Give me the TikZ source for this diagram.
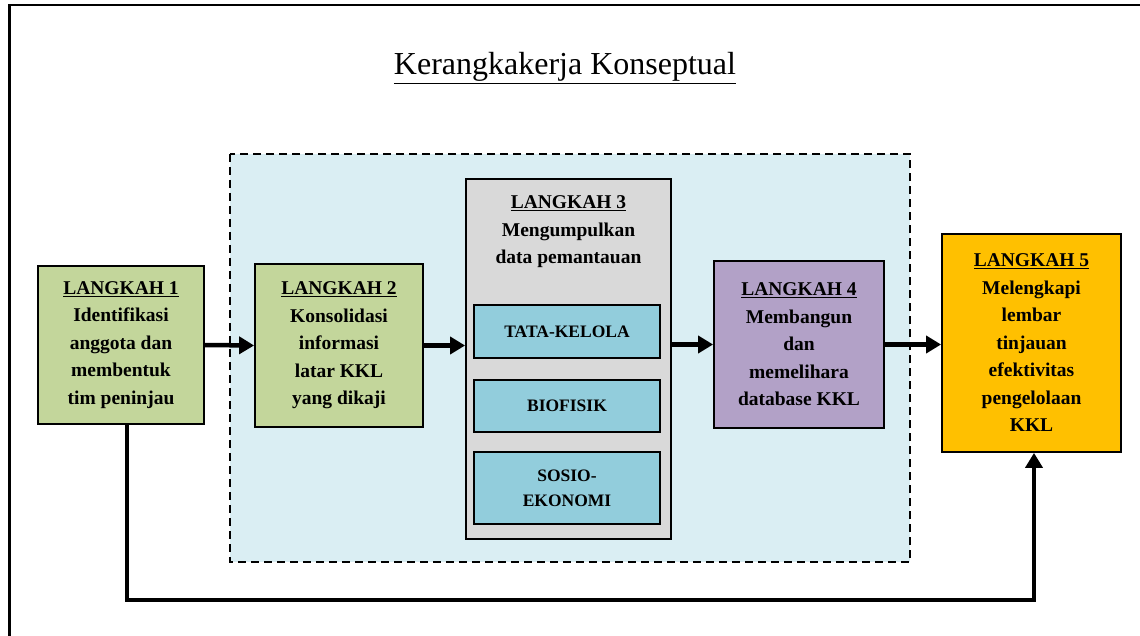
\documentclass[tikz,border=0pt]{standalone}
\usepackage{fontspec}
\setmainfont{Liberation Serif}
\usetikzlibrary{arrows.meta,calc}
\definecolor{cgreen}{HTML}{C3D69B}
\definecolor{cgray}{HTML}{D9D9D9}
\definecolor{csub}{HTML}{92CDDC}
\definecolor{clight}{HTML}{DAEEF3}
\definecolor{cpurple}{HTML}{B2A1C7}
\definecolor{corange}{HTML}{FFC000}
\tikzset{
  stepbox/.style={draw=black, line width=1.8pt, inner sep=0pt, align=center,
    font=\bfseries\fontsize{19.5}{27.5}\selectfont},
  subbox/.style={draw=black, line width=1.8pt, fill=csub, inner sep=0pt, align=center,
    minimum width=186pt, font=\bfseries\fontsize{17.5}{25}\selectfont},
  flow/.style={line width=4.5pt, -{Triangle[length=15pt,width=17pt]}},
}
\begin{document}
\begin{tikzpicture}[x=1pt,y=-1pt]
\useasboundingbox (0,0) rectangle (1140,636);
% outer frame
\draw[line width=2.5pt] (9.5,636) -- (9.5,5) -- (1140,5);
% title
\node[font=\fontsize{32}{38}\selectfont, anchor=base] (title) at (565,75) {\underline{Kerangkakerja Konseptual}};
% dashed region
\draw[dashed, dash pattern=on 8pt off 5pt, line width=2.5pt, fill=clight] (230,154) rectangle (910,562);
% boxes
\node[stepbox, fill=cgreen, minimum width=166pt, minimum height=158pt] (b1) at (121,345)
  {\underline{LANGKAH 1}\\Identifikasi\\anggota dan\\membentuk\\tim peninjau};
\node[stepbox, fill=cgreen, minimum width=168pt, minimum height=163pt] (b2) at (339,345.5)
  {\underline{LANGKAH 2}\\Konsolidasi\\informasi\\latar KKL\\yang dikaji};
\node[stepbox, fill=cgray, minimum width=205pt, minimum height=360pt] (b3) at (568.5,359) {};
\node[stepbox, draw=none, anchor=north] (b3t) at ([yshift=-17pt]b3.north)
  {\underline{LANGKAH 3}\\Mengumpulkan\\data pemantauan};
\node[subbox, minimum height=53pt] (s1) at (567,331.5) {TATA-KELOLA};
\node[subbox, minimum height=52pt] (s2) at (567,406) {BIOFISIK};
\node[subbox, minimum height=72pt] (s3) at (567,488) {SOSIO-\\EKONOMI};
\node[stepbox, fill=cpurple, minimum width=170pt, minimum height=167pt] (b4) at (799,344.5)
  {\underline{LANGKAH 4}\\Membangun\\dan\\memelihara\\database KKL};
\node[stepbox, fill=corange, minimum width=179pt, minimum height=218pt] (b5) at (1031.5,343)
  {\underline{LANGKAH 5}\\Melengkapi\\lembar\\tinjauan\\efektivitas\\pengelolaan\\KKL};
% arrows
\draw[flow] (b1.east) -- (b2.west);
\draw[flow] (b2.east) -- (b3.west |- b2.east);
\draw[flow] (b3.east |- b4.west) -- (b4.west);
\draw[flow] (b4.east) -- (b5.west |- b4.east);
\coordinate (c1) at (127,600);
\coordinate (c2) at (1034,600);
\draw[flow] (b1.south -| c1) -- (c1) -- (c2) -- (b5.south -| c2);
\end{tikzpicture}
\end{document}
